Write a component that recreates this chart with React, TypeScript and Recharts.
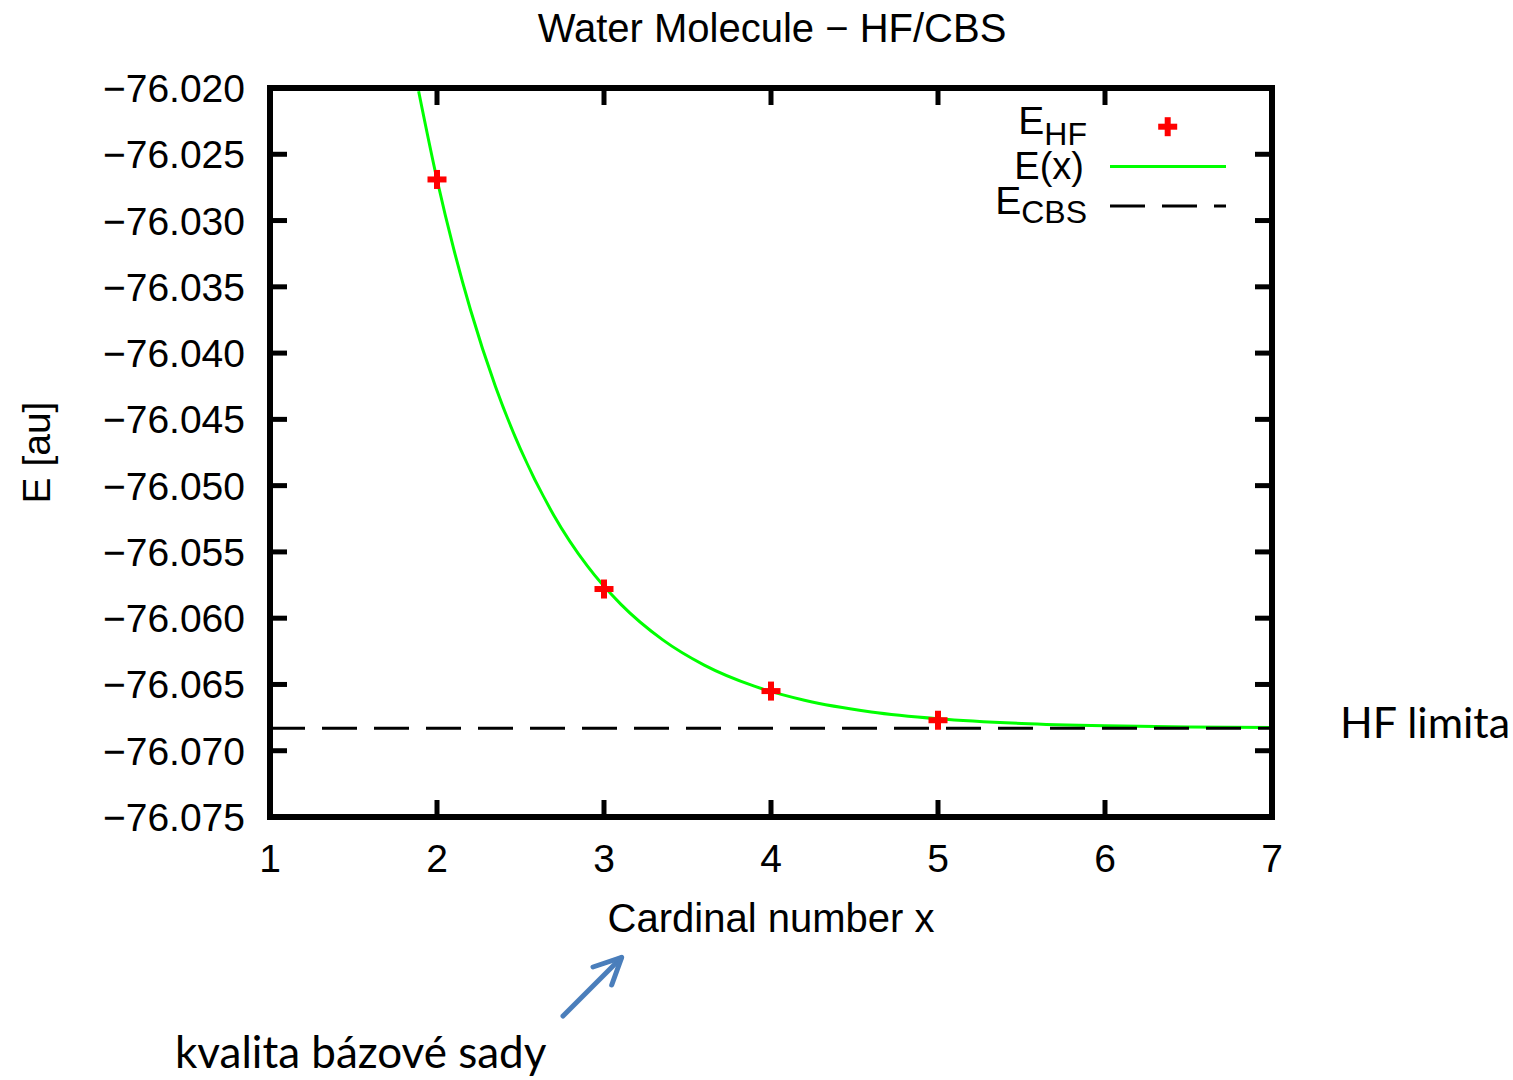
import React from 'react'
import { ComposedChart, Line, Scatter, XAxis, YAxis, ReferenceLine, Legend } from 'recharts'

// HF energies per cardinal number
const cardinal = [2, 3, 4, 5]
const energyHF = [-76.0269, -76.0578, -76.0655, -76.0677]

// fitted E(x), sampled along the green curve
const fitX = [1.89, 2.0, 2.1, 2.2, 2.35, 2.5, 2.7, 2.9, 3.1, 3.35, 3.6, 3.9, 4.2, 4.6, 5.0, 5.5, 6.0, 6.5, 7.0]
const fitE = [-76.02025, -76.0269, -76.03214, -76.03671, -76.04252, -76.04725, -76.05225, -76.05606, -76.05894, -76.06162, -76.06354, -76.06513, -76.06619, -76.06707, -76.06758, -76.06794, -76.06812, -76.06821, -76.06825]

const energyCBS = -76.0683

const xTicks = [1, 2, 3, 4, 5, 6, 7]
const yTicks = [-76.075, -76.07, -76.065, -76.06, -76.055, -76.05, -76.045, -76.04, -76.035, -76.03, -76.025, -76.02]

const pointsHF = cardinal.map((x, i) => ({ x, e: energyHF[i] }))
const fitCurve = fitX.map((x, i) => ({ x, e: fitE[i] }))

const GNU = '"Liberation Sans", Arial, sans-serif'
const OFFICE = 'Lato, "Open Sans", sans-serif'
const fmt = (v: number) => v.toFixed(3).replace('-', '\u2212')

const BottomTick = ({ x, y, payload }: any) => (
  <g>
    <line x1={x} x2={x} y1={y} y2={y - 17} stroke="#000" strokeWidth={5} />
    <text x={x} y={y + 55} textAnchor="middle" fontFamily={GNU} fontSize={39} fill="#000">{payload.value}</text>
  </g>
)
const TopTick = ({ x, y }: any) => <line x1={x} x2={x} y1={y} y2={y + 17} stroke="#000" strokeWidth={5} />
const LeftTick = ({ x, y, payload }: any) => (
  <g>
    <line x1={x} x2={x + 17} y1={y} y2={y} stroke="#000" strokeWidth={5} />
    <text x={x - 25} y={y + 14} textAnchor="end" fontFamily={GNU} fontSize={39} fill="#000">{fmt(payload.value)}</text>
  </g>
)
const RightTick = ({ x, y }: any) => <line x1={x} x2={x - 17} y1={y} y2={y} stroke="#000" strokeWidth={5} />

const Plus = ({ cx, cy }: any) => (
  <g fill="#ff0000">
    <rect x={cx - 9.5} y={cy - 3} width={19} height={6} />
    <rect x={cx - 3} y={cy - 9.5} width={6} height={19} />
  </g>
)

const LegendBox = () => (
  <svg width={280} height={150} style={{ display: 'block' }}>
    <g fontFamily={GNU} fill="#000">
      <text x={107} y={44} textAnchor="end" fontSize={39}>E<tspan fontSize={32} dy={11}>HF</tspan></text>
      <text x={104} y={89} textAnchor="end" fontSize={38}>E(x)</text>
      <text x={107} y={124} textAnchor="end" fontSize={39}>E<tspan fontSize={32} dy={9}>CBS</tspan></text>
    </g>
    <Plus cx={187.7} cy={36.7} />
    <line x1={130} x2={246} y1={76.5} y2={76.5} stroke="#00ff00" strokeWidth={3} />
    <line x1={130} x2={246} y1={116} y2={116} stroke="#000" strokeWidth={3} strokeDasharray="35 17" />
  </svg>
)

const LimitLabel = ({ viewBox }: any) => (
  <text x={viewBox.x + viewBox.width + 68} y={viewBox.y + 10} fontFamily={OFFICE} fontSize={43} fill="#000">HF limita</text>
)

const axisLine = { stroke: '#000', strokeWidth: 6, strokeLinecap: 'square' as const }

export default function App() {
  return (
    <div style={{ position: 'absolute', left: 0, top: 0, width: 1513, height: 1080, background: '#fff' }}>
      <ComposedChart width={1513} height={1080} margin={{ top: 87, right: 240, bottom: 0, left: 0 }}>
        <XAxis xAxisId="x" dataKey="x" type="number" domain={[1, 7]} ticks={xTicks} allowDataOverflow
          height={263} axisLine={axisLine} tickLine={false} tickSize={0} tickMargin={0} tick={BottomTick}
          label={{ value: 'Cardinal number x', position: 'insideTop', offset: 87, fontSize: 40, fontFamily: GNU, fill: '#000' }} />
        <XAxis xAxisId="top" orientation="top" dataKey="x" type="number" domain={[1, 7]} ticks={xTicks} allowDataOverflow
          height={1} axisLine={axisLine} tickLine={false} tickSize={0} tickMargin={0} tick={TopTick} />
        <YAxis yAxisId="y" type="number" domain={[-76.075, -76.02]} ticks={yTicks} allowDataOverflow
          width={270} axisLine={axisLine} tickLine={false} tickSize={0} tickMargin={0} tick={LeftTick}
          label={{ value: 'E [au]', angle: -90, position: 'insideLeft', offset: 36, style: { textAnchor: 'middle' }, fontSize: 39, fontFamily: GNU, fill: '#000' }} />
        <YAxis yAxisId="right" orientation="right" type="number" domain={[-76.075, -76.02]} ticks={yTicks} allowDataOverflow
          width={1} axisLine={axisLine} tickLine={false} tickSize={0} tickMargin={0} tick={RightTick} />
        <Scatter xAxisId="x" yAxisId="y" data={pointsHF} dataKey="e" shape={Plus} isAnimationActive={false} />
        <Line xAxisId="x" yAxisId="y" data={fitCurve} dataKey="e" type="monotone" stroke="#00ff00" strokeWidth={3}
          dot={false} activeDot={false} isAnimationActive={false} />
        <ReferenceLine xAxisId="x" yAxisId="y" y={energyCBS} stroke="#000" strokeWidth={3} strokeDasharray="35 17"
          label={LimitLabel} />
        <Legend content={LegendBox} layout="vertical" align="center" verticalAlign="middle"
          wrapperStyle={{ left: 980, top: 90, width: 280, height: 150 }} />
      </ComposedChart>
      <svg width={1513} height={1080} style={{ position: 'absolute', left: 0, top: 0, pointerEvents: 'none' }}>
        <text x={772} y={42} textAnchor="middle" fontFamily={GNU} fontSize={40} fill="#000">Water Molecule {'\u2212'} HF/CBS</text>
        <g stroke="#4a7ebb" strokeWidth={5} strokeLinecap="round" strokeLinejoin="round" fill="none">
          <line x1={563} y1={1016} x2={621} y2={958} />
          <polyline points="593,967 621.7,957.3 611.7,985" />
        </g>
        <text x={175} y={1068} fontFamily={OFFICE} fontSize={44} fill="#000">kvalita bázové sady</text>
      </svg>
    </div>
  )
}
